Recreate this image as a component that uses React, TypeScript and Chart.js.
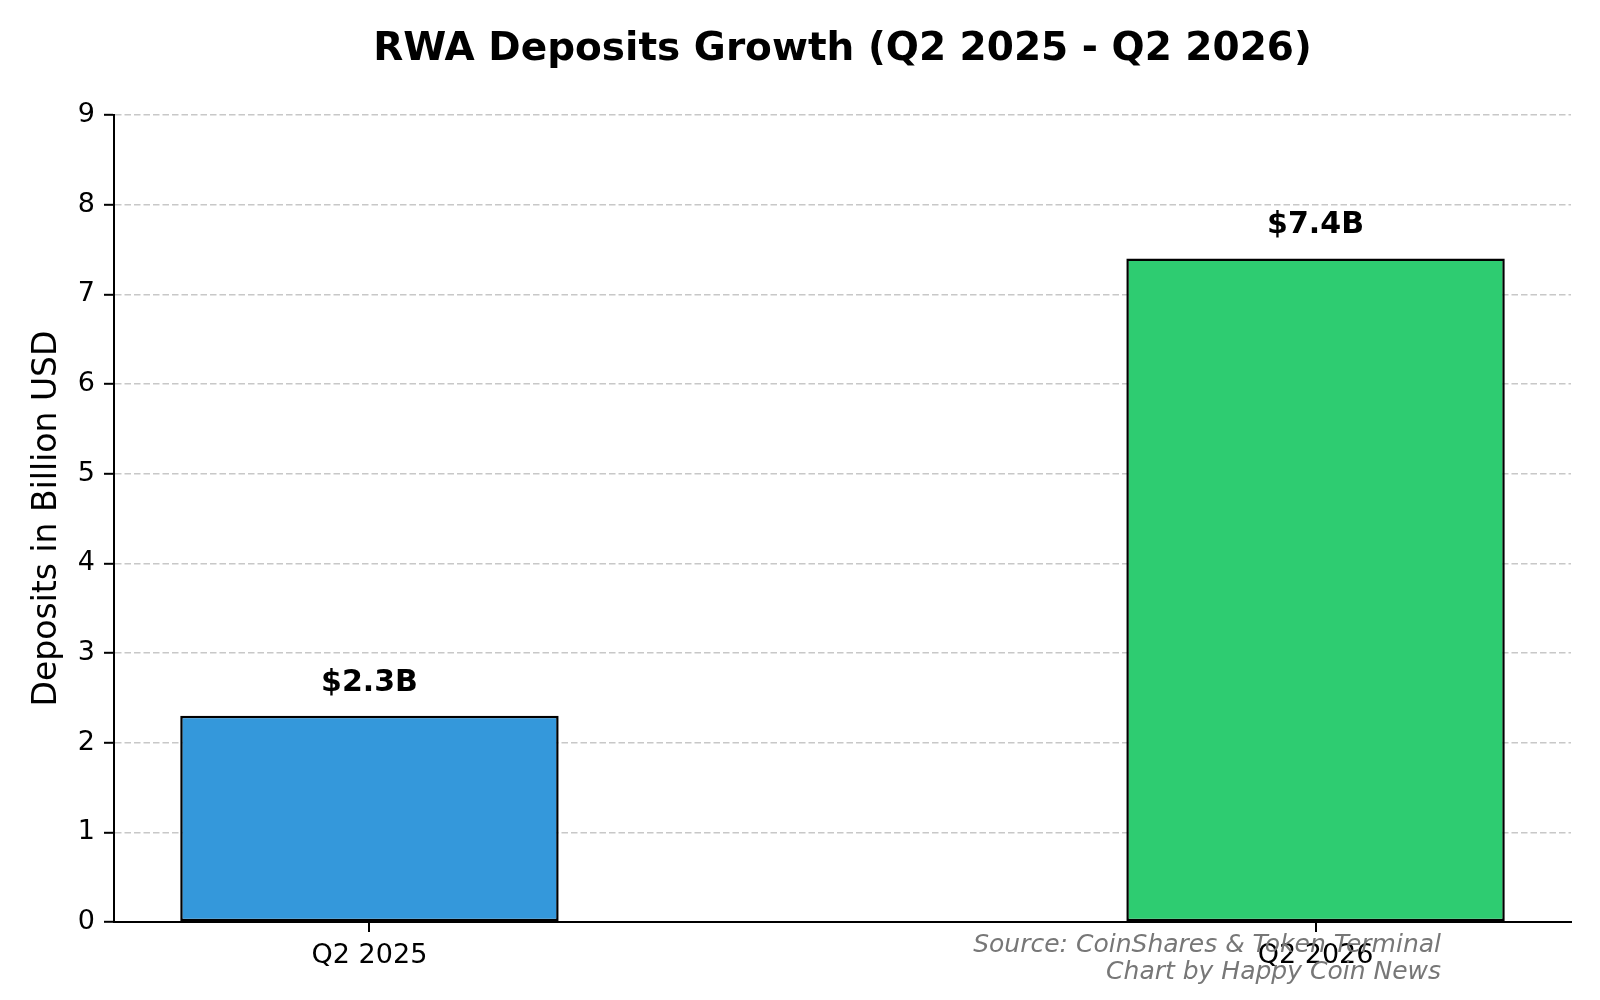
import { useEffect, useRef } from 'react'
import { Chart, registerables } from 'chart.js'

Chart.register(...registerables)

const titleText = 'RWA Deposits Growth (Q2 2025 - Q2 2026)'
const yAxisTitle = 'Deposits in Billion USD'
const categories = ['Q2 2025', 'Q2 2026']
const deposits = [2.3, 7.4]
const valueLabels = ['$2.3B', '$7.4B']
const barColors = ['#3498db', '#2ecc71']
const sourceLines = ['Source: CoinShares & Token Terminal', 'Chart by Happy Coin News']

const FONT = '"DejaVu Sans", sans-serif'

// title, value labels above bars and the source note
const annotations = {
  id: 'annotations',
  afterDraw(chart: any) {
    const { ctx, chartArea, scales } = chart
    const xs = scales.x
    const ys = scales.y
    ctx.save()
    ctx.fillStyle = '#000'
    ctx.textAlign = 'center'
    ctx.textBaseline = 'alphabetic'
    ctx.font = `bold 39px ${FONT}`
    ctx.fillText(titleText, (chartArea.left + chartArea.right) / 2, 60)

    ctx.font = `bold 30px ${FONT}`
    deposits.forEach((v, i) => {
      ctx.fillText(valueLabels[i], xs.getPixelForValue(i), ys.getPixelForValue(v) - 25)
    })

    ctx.font = `italic 25px ${FONT}`
    ctx.fillStyle = '#777777'
    ctx.textAlign = 'right'
    sourceLines.forEach((line, i) => {
      ctx.fillText(line, chartArea.right - 130, chartArea.bottom + 30 + i * 27)
    })
    ctx.restore()
  },
}

const DepositsChart = () => {
  const canvasRef = useRef<HTMLCanvasElement>(null)

  useEffect(() => {
    const chart = new Chart(canvasRef.current!, {
      type: 'bar',
      data: {
        datasets: [
          {
            data: deposits.map((v, i) => ({ x: i, y: v })),
            backgroundColor: barColors,
            borderColor: '#000',
            borderWidth: 2.5,
            borderSkipped: false,
            barPercentage: 0.4,
            categoryPercentage: 1,
          },
        ],
      },
      options: {
        responsive: false,
        animation: false,
        devicePixelRatio: 1,
        layout: { padding: { top: 115, right: 29, bottom: 0, left: 0 } },
        plugins: {
          legend: { display: false },
          tooltip: { enabled: false },
          title: { display: false },
        },
        scales: {
          x: {
            type: 'linear',
            min: -0.27,
            max: 1.27,
            offset: false,
            afterBuildTicks: (scale: any) => {
              scale.ticks = categories.map((_, i) => ({ value: i }))
            },
            afterFit: (scale: any) => {
              scale.height = 78
            },
            ticks: {
              autoSkip: false,
              maxRotation: 0,
              padding: 8,
              color: '#000',
              font: { family: FONT, size: 27 },
              callback: (v: any) => categories[v] ?? '',
            },
            grid: {
              display: true,
              offset: false,
              drawOnChartArea: false,
              drawTicks: true,
              tickLength: 10,
              tickColor: '#000',
              tickWidth: 2,
              color: '#000',
              lineWidth: 2,
            },
            border: { display: true, color: '#000', width: 2 },
          },
          y: {
            min: 0,
            max: 9,
            afterFit: (scale: any) => {
              scale.width = 114
            },
            ticks: {
              stepSize: 1,
              padding: 9,
              color: '#000',
              font: { family: FONT, size: 27 },
            },
            grid: {
              color: 'rgba(176,176,176,0.7)',
              lineWidth: 1.6,
              drawTicks: true,
              tickLength: 10,
              tickColor: '#000',
              tickWidth: 2,
              tickBorderDash: [],
            },
            border: { display: true, color: '#000', width: 2, dash: [6.5, 3] },
            title: {
              display: true,
              text: yAxisTitle,
              color: '#000',
              font: { family: FONT, size: 33 },
              padding: { top: 28, bottom: 0 },
            },
          },
        },
      },
      plugins: [annotations],
    })

    return () => chart.destroy()
  }, [])

  return <canvas ref={canvasRef} width={1600} height={1000} style={{ display: 'block' }} />
}

export default function App() {
  return (
    <div style={{ position: 'absolute', left: 0, top: 0, width: 1600, height: 1000, background: '#fff' }}>
      <DepositsChart />
    </div>
  )
}
